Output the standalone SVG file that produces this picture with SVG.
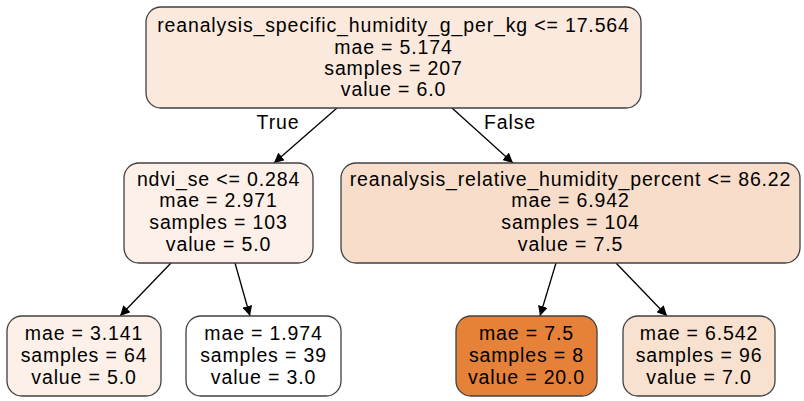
<svg xmlns="http://www.w3.org/2000/svg" width="804" height="401" viewBox="0 0 804 401">
<defs>
<marker id="arr" viewBox="0 0 10 10" refX="10" refY="5" markerWidth="10" markerHeight="10" markerUnits="userSpaceOnUse" orient="auto">
<path d="M0,0 L10,5 L0,10 z" fill="#000"/>
</marker>
</defs>
<style>
.box{stroke:#404040;stroke-width:1.3}
text{font-family:"Liberation Sans",Arial,sans-serif;font-size:19.5px;letter-spacing:0.85px;fill:#000;text-anchor:middle;dominant-baseline:central}
.edge{stroke:#000;stroke-width:1.3;fill:none;marker-end:url(#arr)}
</style>
<rect width="804" height="401" fill="#fff"/>
<g id="connectors">
<line class="edge" x1="337" y1="108" x2="274" y2="163"/>
<line class="edge" x1="452" y1="108" x2="513" y2="163"/>
<line class="edge" x1="171" y1="263" x2="120" y2="316"/>
<line class="edge" x1="235" y1="263" x2="250" y2="316"/>
<line class="edge" x1="556" y1="263" x2="540" y2="316"/>
<line class="edge" x1="616" y1="263" x2="667" y2="316"/>
<text x="278" y="122">True</text>
<text x="510" y="122">False</text>
</g>
<g id="n0">
<rect class="box" x="146" y="7" width="495" height="101" rx="15" fill="#fae9dc"/>
<text x="393.5" y="25">reanalysis_specific_humidity_g_per_kg &lt;= 17.564</text>
<text x="393.5" y="47">mae = 5.174</text>
<text x="393.5" y="68">samples = 207</text>
<text x="393.5" y="89">value = 6.0</text>
</g>
<g id="n1">
<rect class="box" x="124" y="163" width="189" height="100" rx="15" fill="#fcf0e8"/>
<text x="218.5" y="179">ndvi_se &lt;= 0.284</text>
<text x="218.5" y="200">mae = 2.971</text>
<text x="218.5" y="222">samples = 103</text>
<text x="218.5" y="244">value = 5.0</text>
</g>
<g id="n4">
<rect class="box" x="341" y="163" width="459" height="100" rx="15" fill="#f8ddca"/>
<text x="570.5" y="179">reanalysis_relative_humidity_percent &lt;= 86.22</text>
<text x="570.5" y="200">mae = 6.942</text>
<text x="570.5" y="222">samples = 104</text>
<text x="570.5" y="244">value = 7.5</text>
</g>
<g id="n2">
<rect class="box" x="7" y="316" width="154" height="80" rx="15" fill="#fcf0e8"/>
<text x="84" y="333">mae = 3.141</text>
<text x="84" y="355">samples = 64</text>
<text x="84" y="377">value = 5.0</text>
</g>
<g id="n3">
<rect class="box" x="186" y="316" width="155" height="80" rx="15" fill="#ffffff"/>
<text x="263.5" y="333">mae = 1.974</text>
<text x="263.5" y="355">samples = 39</text>
<text x="263.5" y="377">value = 3.0</text>
</g>
<g id="n5">
<rect class="box" x="456" y="316" width="141" height="80" rx="15" fill="#e58139"/>
<text x="526.5" y="333">mae = 7.5</text>
<text x="526.5" y="355">samples = 8</text>
<text x="526.5" y="377">value = 20.0</text>
</g>
<g id="n6">
<rect class="box" x="623" y="316" width="152" height="80" rx="15" fill="#f9e1d0"/>
<text x="699" y="333">mae = 6.542</text>
<text x="699" y="355">samples = 96</text>
<text x="699" y="377">value = 7.0</text>
</g>
</svg>
